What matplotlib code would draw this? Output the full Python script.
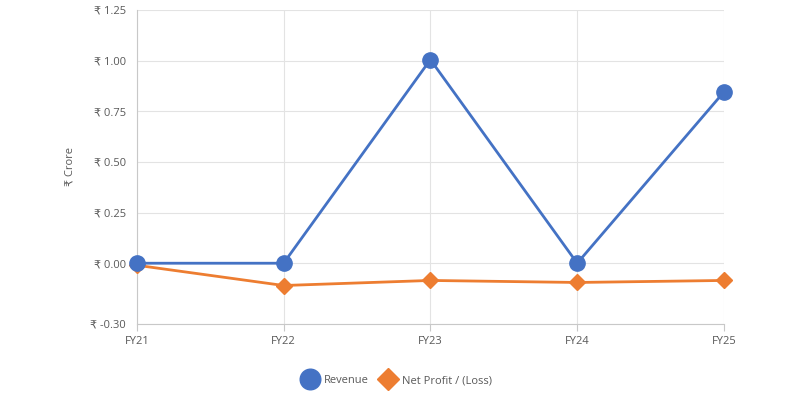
import matplotlib
matplotlib.use("Agg")
import matplotlib.pyplot as plt

plt.rcParams['font.family'] = ['Open Sans', 'DejaVu Sans']

categories = ["FY21", "FY22", "FY23", "FY24", "FY25"]
revenue = [0.0, 0.0, 1.005, 0.0, 0.846]
net_profit = [-0.01, -0.11, -0.085, -0.095, -0.085]
yticks = [-0.30, 0.00, 0.25, 0.50, 0.75, 1.00, 1.25]
ytick_labels = ["₹ -0.30", "₹ 0.00", "₹ 0.25", "₹ 0.50", "₹ 0.75", "₹ 1.00", "₹ 1.25"]

fig = plt.figure(figsize=(8, 4), dpi=100)
ax = fig.add_axes([0.171, 0.19, 0.734, 0.785])

x = list(range(len(categories)))
ax.plot(x, net_profit, color="#ED7D31", lw=2.0, marker="D", ms=8,
        label="Net Profit / (Loss)", zorder=3, clip_on=False)
ax.plot(x, revenue, color="#4472C4", lw=2.0, marker="o", ms=11,
        label="Revenue", zorder=4, clip_on=False)

ax.set_xlim(0, 4)
ax.set_ylim(-0.30, 1.25)
ax.set_xticks(x)
ax.set_xticklabels(categories)
ax.set_yticks(yticks)
ax.set_yticklabels(ytick_labels)
ax.grid(True, color="#e3e3e3", lw=0.8)
ax.set_axisbelow(True)
for s in ["top", "right"]:
    ax.spines[s].set_visible(False)
for s in ["left", "bottom"]:
    ax.spines[s].set_color("#c8c8c8")
ax.tick_params(axis="x", colors="#c8c8c8", length=5, labelcolor="#595959", labelsize=8)
ax.tick_params(axis="y", length=0, labelcolor="#595959", labelsize=8, pad=8)
ax.set_ylabel("₹ Crore", color="#595959", fontsize=8, labelpad=10)

handles, labels = ax.get_legend_handles_labels()
fig.legend(handles[::-1], labels[::-1], loc="center", bbox_to_anchor=(0.497, 0.048),
           ncol=2, frameon=False, fontsize=8, labelcolor="#595959",
           handletextpad=0.7, columnspacing=1.1, handlelength=1.2, markerscale=1.35)
leg = fig.legends[0]
for h in leg.legend_handles:
    h.set_linestyle("none")

fig.savefig("out.png", dpi=100)
